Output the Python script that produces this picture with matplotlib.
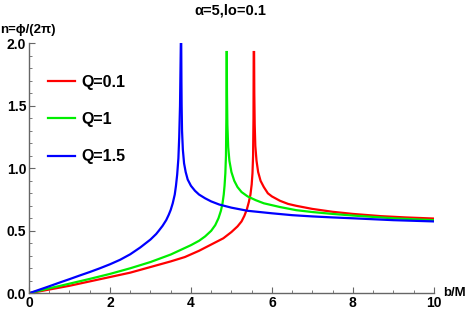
import matplotlib
matplotlib.use("Agg")
import matplotlib.pyplot as plt
from matplotlib.ticker import MultipleLocator, FormatStrFormatter

plt.rcParams['font.family'] = ['Liberation Sans', 'DejaVu Sans']

# Q=0.1 (red), below and above the critical b
b_red_l = [0, 0.25, 0.5, 0.75, 1.0, 1.5, 2.0, 2.5, 3.0, 3.5, 3.85, 4.2, 4.5, 4.8, 5.0, 5.15, 5.25,
           5.32, 5.38, 5.43, 5.47, 5.5, 5.52, 5.535, 5.545, 5.55]
n_red_l = [0, 0.015, 0.03, 0.045, 0.06, 0.095, 0.13, 0.165, 0.21, 0.255, 0.29, 0.34, 0.39, 0.44, 0.49,
           0.535, 0.575, 0.62, 0.67, 0.73, 0.79, 0.87, 0.96, 1.1, 1.4, 1.93]
b_red_r = [5.56, 5.565, 5.575, 5.59, 5.62, 5.66, 5.72, 5.8, 5.9, 6.0, 6.2, 6.4, 6.6, 7.0, 7.5, 8.0,
           8.7, 9.3, 10.0]
n_red_r = [1.93, 1.6, 1.35, 1.18, 1.06, 0.97, 0.9, 0.85, 0.8, 0.775, 0.74, 0.715, 0.70, 0.675, 0.652,
           0.635, 0.617, 0.607, 0.598]

# Q=1 (green)
b_grn_l = [0, 0.25, 0.5, 0.75, 1.0, 1.5, 2.0, 2.5, 3.0, 3.5, 3.8, 4.0, 4.2, 4.35, 4.5, 4.6, 4.68,
           4.74, 4.78, 4.81, 4.83, 4.85, 4.865, 4.875, 4.88]
n_grn_l = [0, 0.02, 0.04, 0.058, 0.077, 0.115, 0.155, 0.2, 0.25, 0.31, 0.355, 0.385, 0.42, 0.455,
           0.5, 0.545, 0.6, 0.66, 0.72, 0.79, 0.86, 0.96, 1.1, 1.4, 1.93]
b_grn_r = [4.885, 4.89, 4.9, 4.92, 4.95, 5.0, 5.07, 5.15, 5.25, 5.4, 5.6, 5.8, 6.2, 6.6, 7.0, 7.5,
           8.0, 9.0, 10.0]
n_grn_r = [1.93, 1.6, 1.35, 1.17, 1.06, 0.97, 0.9, 0.85, 0.81, 0.775, 0.745, 0.72, 0.69, 0.665,
           0.65, 0.635, 0.622, 0.6, 0.585]

# Q=1.5 (blue)
b_blu_l = [0, 0.25, 0.5, 0.75, 1.0, 1.25, 1.5, 1.75, 2.0, 2.25, 2.5, 2.75, 3.0, 3.14, 3.2, 3.3,
           3.39, 3.45, 3.5, 3.55, 3.6, 3.63, 3.66, 3.69, 3.71, 3.73, 3.74, 3.75]
n_blu_l = [0, 0.028, 0.056, 0.085, 0.113, 0.142, 0.17, 0.2, 0.232, 0.268, 0.312, 0.367, 0.43, 0.474,
           0.498, 0.54, 0.586, 0.627, 0.667, 0.72, 0.79, 0.86, 0.95, 1.08, 1.25, 1.5, 1.75, 2.0]
b_blu_r = [3.76, 3.765, 3.77, 3.78, 3.8, 3.83, 3.87, 3.92, 4.0, 4.1, 4.2, 4.35, 4.5, 4.7, 5.0, 5.4,
           6.0, 6.5, 7.0, 7.5, 8.0, 9.0, 10.0]
n_blu_r = [2.0, 1.7, 1.5, 1.3, 1.15, 1.04, 0.97, 0.91, 0.86, 0.82, 0.79, 0.76, 0.735, 0.71, 0.685,
           0.66, 0.64, 0.625, 0.615, 0.607, 0.6, 0.585, 0.575]

series = [
    ("Q=0.1", "#ff0000", b_red_l, n_red_l, b_red_r, n_red_r),
    ("Q=1", "#00ee00", b_grn_l, n_grn_l, b_grn_r, n_grn_r),
    ("Q=1.5", "#0000ff", b_blu_l, n_blu_l, b_blu_r, n_blu_r),
]

fig = plt.figure(figsize=(4.68, 3.14), dpi=100)
ax = fig.add_axes([0.062, 0.066, 0.865, 0.796])

for label, color, bl, nl, br, nr in series:
    ax.plot(bl, nl, color=color, lw=1.6, label=label, solid_joinstyle="round")
    ax.plot(br, nr, color=color, lw=1.6, solid_joinstyle="round")

ax.set_xlim(0, 10)
ax.set_ylim(0, 2.0)
for s in ["top", "right"]:
    ax.spines[s].set_visible(False)
for s in ["left", "bottom"]:
    ax.spines[s].set_color("#666666")
    ax.spines[s].set_linewidth(1.0)

ax.xaxis.set_major_locator(MultipleLocator(2))
ax.xaxis.set_minor_locator(MultipleLocator(0.5))
ax.yaxis.set_major_locator(MultipleLocator(0.5))
ax.yaxis.set_minor_locator(MultipleLocator(0.1))
ax.yaxis.set_major_formatter(FormatStrFormatter("%.1f"))
ax.tick_params(which="both", direction="in", color="#666666", labelsize=10, pad=2)
ax.tick_params(which="major", length=4)
ax.tick_params(which="minor", length=2.5)
for lab in ax.get_xticklabels() + ax.get_yticklabels():
    lab.set_fontweight("bold")

fig.text(0.493, 0.966, "α=5,lo=0.1", ha="center", va="center", fontsize=10.5, fontweight="bold")
fig.text(0.0, 0.905, "n=ϕ/(2π)", ha="left", va="center", fontsize=9.5, fontweight="bold")
ax.text(1.022, 0.0, "b/M", transform=ax.transAxes, ha="left", va="center", fontsize=9.5, fontweight="bold")

leg = ax.legend(loc="upper left", bbox_to_anchor=(0.03, 0.9), frameon=False,
                prop={"size": 11.5, "weight": "bold"}, handlelength=1.7,
                handletextpad=0.4, labelspacing=1.4, borderaxespad=0)

fig.savefig("out.png", dpi=100)
